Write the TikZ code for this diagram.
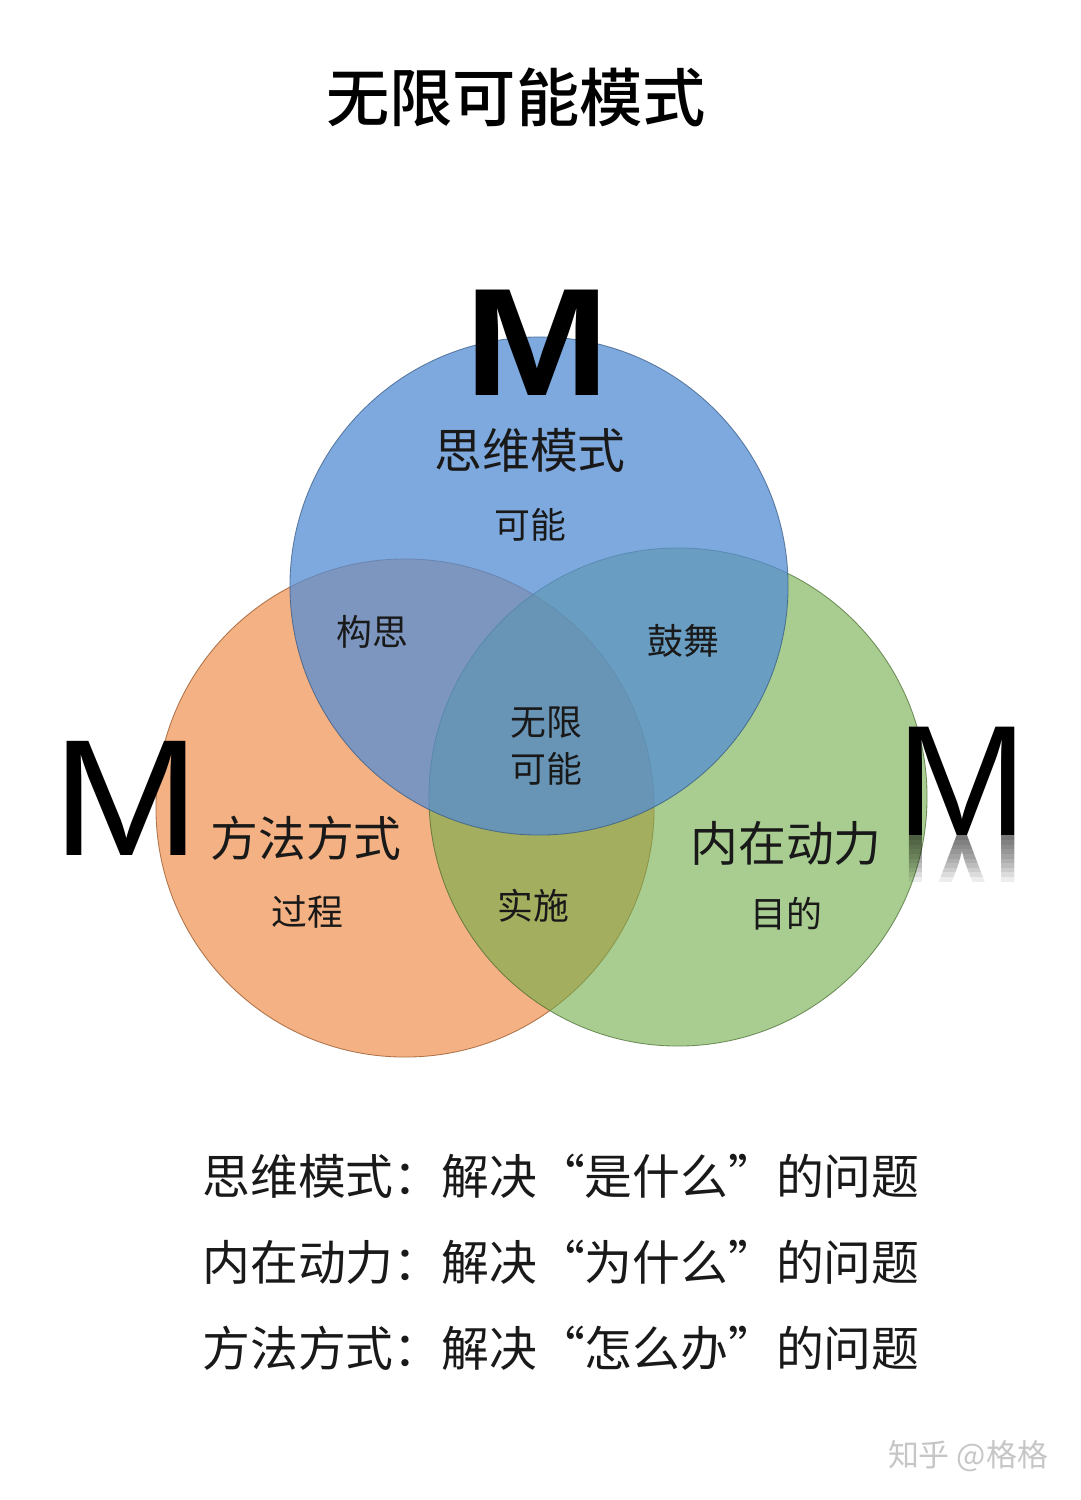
\documentclass[tikz,border=0pt]{standalone}
\usepackage{fontspec}
\setmainfont{Liberation Sans}
\newfontfamily\zhfont[RawFeature=+fwid]{Noto Sans CJK SC}
\newfontfamily\zhplain{Noto Sans CJK SC}
\newfontfamily\zhmed{Noto Sans CJK SC Medium}
\usetikzlibrary{positioning}
\definecolor{thinkblue}{RGB}{84,141,212}
\definecolor{methodorange}{RGB}{237,125,49}
\definecolor{drivegreen}{RGB}{112,173,71}

\begin{document}
\begin{tikzpicture}[x=0.025cm,y=-0.025cm,font=\zhfont]
\tikzstyle{circ}=[circle,minimum size=12.45cm,inner sep=0,line width=0.6pt,draw opacity=0.7]
\tikzstyle{big}=[font=\zhfont\fontsize{34}{40}\selectfont,text=black!90]
\tikzstyle{small}=[font=\zhfont\fontsize{25.5}{30}\selectfont,text=black!90]
\tikzstyle{mm}=[inner sep=0,anchor=base,text=black]
\fill[white] (0,0) rectangle (1080,1500);
\useasboundingbox (0,0) rectangle (1080,1500);
\node[font=\zhmed\fontsize{45}{54}\selectfont] (title) at (516,97) {无限可能模式};
% the three circles
\node[circ,fill=methodorange,fill opacity=0.6,draw=methodorange!60!black] (method) at (405,808) {};
\node[circ,fill=drivegreen,fill opacity=0.6,draw=drivegreen!60!black] (drive) at (678,797) {};
\node[circ,fill=thinkblue,fill opacity=0.75,draw=thinkblue!60!black] (think) at (539,586) {};
% the M letters
\node[mm,font=\rmfamily\bfseries\fontsize{109}{112}\selectfont] (mTop) at (537,395) {\scalebox{1.14}[1]{M}};
\node[mm,font=\rmfamily\fontsize{118}{122}\selectfont] (mLeft) at (126,855) {\scalebox{1.07}[1]{M}};
\node[mm,font=\rmfamily\fontsize{112}{116}\selectfont] (mRight) at (962,835) {M};
% faded mirror image under the right M
\foreach \i in {1,...,10}{
  \begin{scope}
  \clip (890,835) rectangle (1040,{835+4.6*\i});
  \begin{scope}[shift={(mRight.base)},yscale=-1]
  \node[mm,transform shape,font=\rmfamily\fontsize{112}{116}\selectfont,text opacity=0.07] at (0,0) {M};
  \end{scope}
  \end{scope}
}
% labels in the circles
\node[big] (thinkT) at (530,450) {思维模式};
\node[small] (thinkS) at (530,525) {可能};
\node[small] (plan) at (372,632) {构思};
\node[small] (inspire) at (683,641) {鼓舞};
\node[small,align=center,font=\zhfont\fontsize{25.5}{34}\selectfont] (core) at (546,746) {无限\\可能};
\node[big] (methodT) at (306,838) {方法方式};
\node[small] (methodS) at (307,912) {过程};
\node[small] (act) at (533,906) {实施};
\node[big] (driveT) at (786,843) {内在动力};
\node[small] (driveS) at (786,914) {目的};
% notes below
\node[big] (note1) at (561,1176) {思维模式：解决“是什么”的问题};
\node[big] (note2) at (561,1262) {内在动力：解决“为什么”的问题};
\node[big] (note3) at (561,1348) {方法方式：解决“怎么办”的问题};
\node[font=\zhplain\fontsize{22}{26}\selectfont,text=gray!45] (mark) at (968,1456) {知乎 @格格};
\end{tikzpicture}
\end{document}
